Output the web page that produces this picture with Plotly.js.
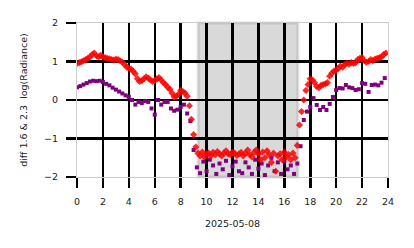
<!DOCTYPE html>
<html><head><meta charset="utf-8">
<script src="https://cdn.plot.ly/plotly-3.0.1.min.js"></script>
<style>html,body{margin:0;padding:0;background:#fff}#chart{width:414px;height:248px}</style>
</head><body><div id="chart"></div>
<script>
const redHours = [0,0.17,0.33,0.5,0.67,0.83,1,1.17,1.33,1.5,1.67,1.83,2,2.17,2.33,2.5,2.67,2.83,3,3.17,3.33,3.5,3.67,3.83,4,4.17,4.33,4.5,4.67,4.83,5,5.17,5.33,5.5,5.67,5.83,6,6.17,6.33,6.5,6.67,6.83,7,7.17,7.33,7.5,7.67,7.83,8,8.17,8.33,8.5,8.67,8.83,9,9.17,9.33,9.5,9.67,9.83,10,10.17,10.33,10.5,10.67,10.83,11,11.17,11.33,11.5,11.67,11.83,12,12.17,12.33,12.5,12.67,12.83,13,13.17,13.33,13.5,13.67,13.83,14,14.17,14.33,14.5,14.67,14.83,15,15.17,15.33,15.5,15.67,15.83,16,16.17,16.33,16.5,16.67,16.83,17,17.17,17.33,17.5,17.67,17.83,18,18.17,18.33,18.5,18.67,18.83,19,19.17,19.33,19.5,19.67,19.83,20,20.17,20.33,20.5,20.67,20.83,21,21.17,21.33,21.5,21.67,21.83,22,22.17,22.33,22.5,22.67,22.83,23,23.17,23.33,23.5,23.67,23.83];
const redDiff = [0.95,0.97,0.99,1.02,1.05,1.08,1.12,1.18,1.22,1.15,1.12,1.16,1.12,1.10,1.08,1.07,1.05,1.04,1.06,1.05,1.02,0.98,0.92,0.86,0.82,0.80,0.75,0.68,0.55,0.48,0.50,0.55,0.60,0.57,0.52,0.48,0.50,0.55,0.58,0.52,0.45,0.40,0.33,0.28,0.18,0.08,0.10,0.15,0.25,0.22,0.18,0.10,-0.15,-0.50,-0.90,-1.22,-1.38,-1.45,-1.35,-1.48,-1.40,-1.38,-1.45,-1.36,-1.42,-1.34,-1.40,-1.45,-1.38,-1.32,-1.40,-1.42,-1.36,-1.38,-1.44,-1.40,-1.36,-1.45,-1.38,-1.30,-1.42,-1.48,-1.36,-1.30,-1.40,-1.55,-1.35,-1.50,-1.32,-1.42,-1.62,-1.38,-1.85,-1.45,-1.40,-1.55,-1.35,-1.48,-1.42,-1.55,-1.38,-1.50,-1.18,-0.65,-0.30,0.00,0.25,0.40,0.55,0.52,0.45,0.35,0.32,0.38,0.40,0.42,0.45,0.62,0.70,0.75,0.78,0.82,0.88,0.85,0.92,0.95,0.93,0.97,0.95,0.97,1.05,1.08,1.10,1.02,0.98,1.00,1.05,1.02,1.06,1.08,1.10,1.12,1.18,1.22];
const purpleHours = [0,0.25,0.5,0.75,1,1.25,1.5,1.75,2,2.25,2.5,2.75,3,3.25,3.5,3.75,4,4.25,4.5,4.75,5,5.25,5.5,5.75,6,6.25,6.5,6.75,7,7.25,7.5,7.75,8,8.25,8.5,8.75,9,9.25,9.5,9.75,10,10.25,10.5,10.75,11,11.25,11.5,11.75,12,12.25,12.5,12.75,13,13.25,13.5,13.75,14,14.25,14.5,14.75,15,15.25,15.5,15.75,16,16.25,16.5,16.75,17,17.25,17.5,17.75,18,18.25,18.5,18.75,19,19.25,19.5,19.75,20,20.25,20.5,20.75,21,21.25,21.5,21.75,22,22.25,22.5,22.75,23,23.25,23.5,23.75];
const purpleDiff = [0.33,0.36,0.40,0.44,0.48,0.50,0.49,0.50,0.47,0.42,0.38,0.32,0.27,0.22,0.17,0.12,0.08,0.00,-0.12,-0.05,-0.08,-0.03,-0.05,-0.22,-0.38,0.00,-0.12,-0.05,-0.05,-0.22,-0.28,-0.25,-0.18,-0.12,-0.35,-0.55,-1.30,-1.75,-1.90,-1.60,-1.85,-1.55,-1.70,-1.92,-1.65,-1.80,-1.58,-1.95,-1.72,-1.60,-1.85,-1.90,-1.62,-1.75,-1.92,-1.55,-1.78,-1.65,-1.95,-1.70,-1.50,-1.85,-1.62,-1.92,-1.58,-1.80,-1.70,-1.92,-1.65,-1.20,-0.52,-0.30,-0.18,0.05,-0.13,-0.26,-0.18,-0.26,-0.10,0.08,0.26,0.31,0.30,0.39,0.33,0.31,0.26,0.28,0.44,0.42,0.21,0.39,0.40,0.38,0.45,0.57];
const xTicks = [0,2,4,6,8,10,12,14,16,18,20,22,24];
const yTicks = [-2,-1,0,1,2];
const nightStart = 9.35, nightEnd = 17.05;

const traces = [
  {x: purpleHours, y: purpleDiff, type: 'scatter', mode: 'markers',
   marker: {symbol: 'square', size: 4, color: '#800080'}, hoverinfo: 'skip'},
  {x: redHours, y: redDiff, type: 'scatter', mode: 'markers',
   marker: {symbol: 'diamond', size: 5.5, color: 'rgba(255,0,0,0.85)'}, hoverinfo: 'skip'}
];
const axisFont = {family: 'DejaVu Sans', size: 9.5, color: '#222'};
const layout = {
  width: 414, height: 248,
  margin: {l: 77, r: 26, t: 23, b: 71},
  paper_bgcolor: '#fff', plot_bgcolor: '#fff',
  showlegend: false,
  font: axisFont,
  xaxis: {
    range: [0, 24], tickvals: xTicks, ticktext: xTicks.map(String),
    showgrid: true, gridcolor: '#000', gridwidth: 2.5,
    ticks: 'outside', ticklen: 10, tickwidth: 2.5, tickcolor: '#000',
    ticklabelstandoff: 6,
    showline: true, linecolor: '#cccccc', linewidth: 1, mirror: true,
    zeroline: false, tickfont: axisFont,
    title: {text: '2025-05-08', font: axisFont, standoff: 13}
  },
  yaxis: {
    range: [-2, 2], tickvals: yTicks, ticktext: yTicks.map(v => v < 0 ? '\u2212' + Math.abs(v) : String(v)),
    showgrid: true, gridcolor: '#000', gridwidth: 2.5,
    ticks: 'outside', ticklen: 10, tickwidth: 2.5, tickcolor: '#000',
    ticklabelstandoff: 6,
    showline: true, linecolor: '#cccccc', linewidth: 1, mirror: true,
    zeroline: false, tickfont: axisFont,
    title: {text: 'diff 1.6 &amp; 2.3  log(Radiance)', font: axisFont, standoff: 14}
  },
  shapes: [
    {type: 'rect', xref: 'x', yref: 'paper', x0: nightStart, x1: nightEnd, y0: 0, y1: 1,
     fillcolor: '#d9d9d9', line: {width: 3, color: 'rgba(160,160,160,0.35)'}, layer: 'below'}
  ]
};
Plotly.newPlot('chart', traces, layout, {staticPlot: true, displayModeBar: false});
</script></body></html>
